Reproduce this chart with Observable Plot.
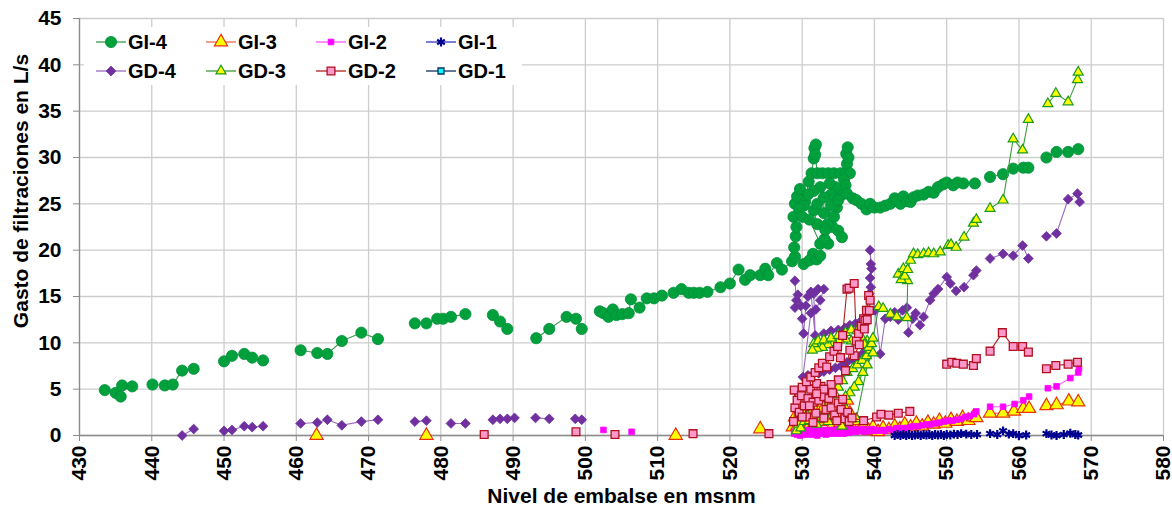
<!DOCTYPE html>
<html><head><meta charset="utf-8">
<script src="https://cdn.jsdelivr.net/npm/d3@7"></script>
<script src="https://cdn.jsdelivr.net/npm/@observablehq/plot@0.6"></script>
<style>
body{margin:0;background:#fff;}
#chart{width:1172px;height:510px;}
</style>
</head><body><div id="chart"></div>
<script>
// ---------- tick labels ----------
const xTicks = [430,440,450,460,470,480,490,500,510,520,530,540,550,560,570,580];
const yTicks = [0,5,10,15,20,25,30,35,40,45];
const xTitle = "Nivel de embalse en msnm";
const yTitle = "Gasto de filtraciones en L/s";
const seriesNames = ["GI-4","GI-3","GI-2","GI-1","GD-4","GD-3","GD-2","GD-1"];

// ---------- series values [nivel, gasto]; null = break in line ----------
const GI4 = [
[433.5,4.9],[435.0,4.6],[435.7,4.2],[435.9,5.4],[437.3,5.3], null,
[440.1,5.5],[441.8,5.4],[442.9,5.5],[444.2,7.0],[445.8,7.2], null,
[450.0,8.0],[451.1,8.6],[452.8,8.8],[453.9,8.4],[455.4,8.1], null,
[460.6,9.2],[462.9,8.9],[464.3,8.8],[466.3,10.2],[469.0,11.1],[471.3,10.4], null,
[476.4,12.1],[478.0,12.1],[479.5,12.6],[480.3,12.6],[481.4,12.8],[483.4,13.1], null,
[487.2,13.0],[488.2,12.3],[489.2,11.5], null,
[493.2,10.5],[495.0,11.5],[497.4,12.8],[498.7,12.6],[499.5,11.5], null,
[502.0,13.4],[502.5,13.2],[503.2,12.8],[503.8,13.6],[504.3,13.0],[505.1,13.1],[506.0,13.2],[506.3,14.7],[507.5,13.8],[508.5,14.8],[509.5,14.8],[510.6,15.1], null,
[512.2,15.4],[513.3,15.8],[514.3,15.4],[515.0,15.4],[515.8,15.4],[516.9,15.5],
[518.7,16.0],[520.0,16.4],[521.2,17.9],[522.1,16.8],[522.8,17.3],[524.2,17.3],[524.9,18.0],[525.3,17.3],[526.5,18.6],[527.2,17.9],[528.6,18.8],
[529.0,19.3],[528.9,20.3],[529.1,21.5],[529.2,22.5],[528.8,23.6],[529.0,25.0],[529.3,25.8],[529.7,26.6],[530.4,25.2],[530.9,27.4],[531.3,28.3],[531.6,29.9],[531.7,31.0],[531.9,31.4],[531.8,30.3],[532.1,28.3],[532.8,28.3],[533.6,28.3],[534.4,28.3],[535.3,28.3],[536.0,28.3],[536.2,29.3],[536.1,30.4],[536.3,31.1],[536.4,30.0],[536.6,28.3],[535.8,27.6],[536.0,27.0],[535.5,26.0],[534.6,26.8],[533.8,27.2],[534.0,26.0],[534.8,24.6],[534.4,23.6],[535.0,22.1],[535.5,21.4],[534.2,22.5],[533.5,22.8],[532.1,22.8],[531.6,24.3],[532.1,25.0],[533.0,24.0],[533.0,25.7],[532.5,26.8],[531.6,26.4],[530.8,26.0],[530.2,24.8],[529.6,24.5],[530.0,23.6],[531.0,23.3],[532.5,20.7],[533.6,20.7],[533.1,21.2],[531.5,19.6],[530.2,18.5],[531.0,18.9],[532.0,19.0],[532.5,19.4],[533.2,22.2],[534.0,24.8],[535.0,25.4],[536.2,26.1],[537.0,25.6],[537.5,25.4],[538.2,25.0],[538.9,24.4],[539.4,25.0],[540.0,24.6],[540.8,24.6],[541.5,24.8],[542.2,25.0],[542.8,25.6],[543.1,25.3],[543.6,25.0],[544.0,25.8],[544.5,25.3],[545.0,25.2],[545.4,25.7],[546.0,25.9],[546.8,26.0],[547.5,26.3],[548.2,26.2],[548.8,26.8],[549.5,27.1],[550.0,27.3],[550.9,27.0],[551.5,27.3],[552.3,27.2],[553.9,27.2], null,
[556.0,27.9],[557.8,28.2],[559.2,28.8],[560.6,28.9],[561.3,28.9], null,
[563.8,30.0],[565.2,30.6],[566.8,30.6],[568.2,30.9]
];
const GI3 = [
[462.8,0.0], null, [478.0,0.0], null, [512.5,0.0], null, [524.2,0.7], null,
[528.7,0.9],[529.0,2.0],[529.3,1.0],[529.6,3.0],[530.0,1.5],[530.4,2.5],[530.8,0.8],[531.2,2.2],[531.6,1.2],[532.0,2.8],[532.5,1.5],[533.0,3.0],[533.4,1.8],[533.8,2.6],[534.3,1.2],[534.8,2.8],[535.3,1.4],[535.7,3.2],[536.2,3.8],[536.4,1.0],[536.6,2.4],[537.0,0.8],[537.5,1.6],[538.0,0.6],[538.6,1.2],[539.2,0.5],[539.8,0.9],[540.5,0.4],[541.2,0.8],[542.0,0.6],[542.8,1.0],[543.5,0.7],[544.2,1.2],[545.0,0.9],[545.8,1.3],[546.6,1.0],[547.4,1.4],[548.2,1.2],[549.0,1.6],[549.8,1.3],[550.6,1.7],[551.4,1.5],[552.2,1.9],[553.0,1.6],[553.7,2.0],[554.1,1.9], null,
[556.0,2.4],[557.8,2.4],[559.3,2.6],[560.6,2.9],[561.4,2.9], null,
[563.8,3.2],[565.2,3.3],[566.9,3.7],[568.2,3.6]
];
const GI2 = [
[502.5,0.6], null, [506.4,0.4], null,
[528.9,0.2],[529.1,0.5],[529.3,0.1],[529.5,0.4],[529.7,0.0],[529.9,0.6],[530.1,0.2],[530.3,0.4],[530.5,0.1],[530.7,0.6],[530.9,0.3],[531.1,0.5],[531.3,0.1],[531.5,0.6],[531.7,0.2],[531.9,0.4],[532.1,0.0],[532.3,0.5],[532.5,0.2],[532.7,0.6],[532.9,0.3],[533.1,0.5],[533.3,0.1],[533.5,0.6],[533.7,0.3],[533.9,0.5],[534.1,0.2],[534.3,0.6],[534.5,0.3],[534.7,0.5],[534.9,0.2],[535.1,0.7],[535.3,0.3],[535.5,0.5],[535.7,0.2],[535.9,0.6],[536.1,0.4],[536.3,0.7],[536.5,0.3],[536.7,0.6],[536.9,0.4],[537.2,0.7],[537.5,0.4],[537.8,0.6],[538.1,0.5],[538.4,0.7],[538.7,0.4],[539.0,0.6],[539.3,0.5],[539.6,0.7],[539.9,0.5],[540.2,0.6],[540.5,0.5],[541.0,0.6],[541.5,0.5],[542.0,0.7],[542.5,0.6],[543.0,0.8],[543.5,0.7],[544.0,0.8],[544.5,0.8],[545.0,0.9],[545.4,1.0],[546.0,1.0],[546.6,1.1],[547.2,1.2],[547.8,1.2],[548.4,1.3],[549.0,1.4],[549.6,1.5],[550.2,1.6],[550.8,1.6],[551.4,1.7],[552.0,1.8],[552.6,2.0],[553.2,2.1],[553.8,2.3],[554.1,2.6], null,
[556.0,3.1],[557.8,3.1],[559.4,3.4],[560.6,3.8],[561.4,4.2], null,
[564.0,5.1],[565.2,5.3],[567.1,6.2],[568.2,6.8],[568.3,7.2]
];
const GI1 = [
[542.8,0.0],[543.2,0.1],[543.6,0.0],[544.0,0.1],[544.4,0.0],[544.8,0.1],[545.2,0.0],[545.6,0.05],[546.0,0.1],[546.4,0.0],[546.8,0.1],[547.2,0.05],[547.6,0.1],[548.0,0.0],[548.4,0.1],[548.8,0.05],[549.2,0.1],[549.6,0.0],[550.0,0.1],[550.5,0.05],[551.0,0.15],[551.5,0.1],[552.0,0.2],[552.7,0.15],[553.4,0.1],[554.2,0.1], null,
[556.0,0.2],[557.0,0.1],[557.8,0.5],[558.6,0.15],[559.2,0.2],[560.0,0.0],[561.0,0.05], null,
[563.8,0.2],[564.5,0.05],[565.2,0.0],[566.2,0.1],[567.1,0.25],[567.8,0.1],[568.2,0.05]
];
const GD4 = [
[444.2,0.0],[445.8,0.7], null,
[450.0,0.5],[451.1,0.6],[452.8,1.0],[453.9,0.9],[455.4,1.0], null,
[460.6,1.3],[462.9,1.4],[464.3,1.7],[466.3,1.1],[469.0,1.5],[471.3,1.7], null,
[476.4,1.5],[478.0,1.6], null,
[481.4,1.3],[483.4,1.3], null,
[487.2,1.7],[488.2,1.8],[489.2,1.8],[490.2,1.9], null,
[493.1,1.9],[495.0,1.8], null,
[498.6,1.8],[499.5,1.7], null,
[529.0,16.7],[529.2,14.6],[529.0,13.8],[529.4,15.2],[529.8,14.0],[530.0,12.6],[530.2,11.0],[530.5,14.0],[530.8,15.0],[531.2,15.5],[531.8,10.8],[531.6,15.3],[532.2,15.8],[533.0,15.8],[532.5,14.6],[531.9,13.6],[531.2,13.2],
[530.1,6.3],[530.8,6.5],[531.5,6.6],[532.3,6.7],[533.0,6.9],[533.8,7.1],[534.6,7.3],[535.4,7.5],[536.2,7.9],[537.0,8.2],[537.6,8.5],[538.3,8.8],[538.9,9.3],
[533.0,11.0],[534.0,11.3],[535.0,11.4],[535.9,11.6],[536.6,11.9],[537.4,12.1],[538.3,12.5],[538.9,13.0],[539.3,15.3],[539.4,17.0],[539.5,18.5],[539.4,20.0],[539.6,18.0],[539.5,16.0],[540.1,13.5],[540.8,8.8],[541.5,12.6],[542.2,12.8],[542.8,13.3],[543.3,12.5],[543.9,13.5],[544.5,13.8],[544.7,11.1],[545.3,12.6],[545.7,13.2],[546.3,11.9],[546.8,12.8],[547.7,14.6],[548.2,15.3],[548.8,15.8],[550.0,17.1],[550.5,16.4],[551.3,15.6],[552.4,16.0],[553.7,17.3],[554.1,17.8], null,
[556.0,19.1],[557.8,19.6],[559.2,19.4],[560.5,20.5],[561.3,19.1], null,
[563.8,21.5],[565.2,21.8],[566.8,25.5],[568.1,26.1],[568.4,25.2]
];
const GD3 = [
[529.2,0.5],[529.5,1.2],[529.8,0.8],[530.3,1.5],[530.7,2.2],[531.0,1.6],[531.5,2.0],[532.0,1.2],[532.6,1.8],[533.2,2.6],[533.6,3.4],[534.0,4.4],[534.6,4.4],[535.0,5.2],[535.6,5.9],[536.2,6.8],[537.0,7.2],[537.6,7.6],[538.3,8.1],[538.9,8.6],[539.4,9.2],[539.5,10.0],[539.0,10.2],[538.4,10.3],[537.6,10.1],[536.8,10.2],[536.0,10.4],[535.2,10.3],[534.4,10.0],[533.6,9.8],[532.8,9.5],[532.0,9.4],[531.6,9.9],[531.4,9.2],[532.2,10.2],[533.0,10.3],[534.0,10.5],[535.0,10.8],[536.0,11.1],[536.8,11.4],[537.6,11.3],[538.2,10.6],[538.6,9.8],[539.2,9.5],[539.6,9.9],[539.8,8.9],[539.0,7.6],[538.4,6.8],[537.8,5.8],[537.2,5.2],[536.6,4.6],[536.0,4.2],[535.4,3.6],[534.8,3.0],[534.2,2.2],[533.6,1.5],[535.5,1.0],[537.5,1.8],[539.8,10.5],[540.6,13.9],[541.2,13.7],[542.2,13.1],[543.1,12.8],[544.5,12.7],[544.6,16.7],[543.3,17.4],[543.7,16.8],[544.0,18.0],[544.2,17.2],[544.6,17.9],[545.0,18.9],[545.4,19.6],[546.0,19.5],[546.8,19.6],[547.5,19.7],[548.2,19.6],[549.1,19.8],[550.2,20.5],[550.6,20.6],[551.3,20.3],[552.4,21.4],[553.7,22.9],[554.1,23.3], null,
[556.0,24.5],[557.8,25.4],[559.2,32.0],[560.5,30.8],[561.3,34.1], null,
[564.0,35.8],[565.1,36.9],[566.8,36.0],[568.1,38.4],[568.2,39.2]
];
const GD2 = [
[486.0,0.1], null, [498.7,0.4], null, [504.1,0.1], null, [514.9,0.2], null, [525.4,0.2], null,
[528.8,1.5],[529.0,3.0],[528.9,4.9],[529.3,3.8],[529.6,2.5],[529.9,4.3],[530.3,3.2],[530.6,2.0],[530.8,4.0],[531.2,5.0],[531.5,3.6],[531.9,2.4],[532.3,3.8],[532.6,5.3],[533.0,4.2],[533.3,2.8],[533.7,4.0],[534.0,3.0],[534.5,2.2],[535.0,3.5],[535.4,2.8],[535.9,1.8],[536.3,2.5],[536.5,1.5],[535.6,3.9],[534.2,4.6],[532.0,5.6],[530.0,5.2],[530.6,5.8],[531.2,6.3],[531.8,6.8],[532.3,7.3],[532.8,7.8],[533.4,7.4],[533.8,8.5],[534.4,9.1],[534.9,9.6],[535.3,8.4],[535.6,10.8],[536.2,15.8],[536.5,15.9],[537.2,16.4],[537.5,10.2],[537.8,11.0],[538.2,11.8],[538.5,12.6],[538.7,12.4],[538.9,13.5],[539.2,15.1],[539.4,14.6],[539.3,13.5],[539.0,12.5],[538.6,11.5],[537.9,9.8],[537.2,8.6],[536.6,9.2],[536.0,7.0],[535.0,6.0],[534.0,5.5],[533.0,5.0],[532.0,4.5],[531.0,3.2],[530.0,2.0],[531.5,1.4],[533.0,1.9],[534.8,1.6],[536.9,1.9],[538.5,1.6],[540.3,2.0],[540.9,2.3],[542.0,2.2],[543.3,2.4],[544.9,2.6], null,
[550.0,7.7],[550.7,7.9],[551.4,7.8],[552.3,7.7],[553.7,7.55],[554.1,8.3], null,
[556.0,9.1],[557.7,11.1],[559.2,9.6],[560.5,9.6],[561.3,9.0], null,
[563.8,7.2],[565.1,7.55],[566.8,7.7],[568.1,7.9]
];
const GD1 = [];

const valuesByName = {"GI-4":GI4,"GI-3":GI3,"GI-2":GI2,"GI-1":GI1,"GD-4":GD4,"GD-3":GD3,"GD-2":GD2,"GD-1":GD1};

// ---------- styles ----------
const styles = {
  "GI-4": {symbol:"circle",   r:5.6, fill:"#00a03c", stroke:"#00903a", sw:0.8, line:"#3a9a50"},
  "GI-3": {symbol:"triangle", r:4.9, fill:"#ffff00", stroke:"#e8300a", sw:1.2, line:"#e86a50"},
  "GI-2": {symbol:"square",   r:3.2, fill:"#ff00ff", stroke:"#ff00ff", sw:0.8, line:"#ff55ff"},
  "GI-1": {symbol:"asterisk", r:4.2, fill:"none",    stroke:"#000090", sw:2.2, line:"#3535c0"},
  "GD-4": {symbol:"diamond2", r:4.4, fill:"#7030a0", stroke:"#7030a0", sw:0.8, line:"#9b6ac0"},
  "GD-3": {symbol:"triangle", r:3.7, fill:"#ffff00", stroke:"#1c9a1c", sw:1.2, line:"#3a9a3a"},
  "GD-2": {symbol:"square",   r:4.4, fill:"#ff99cc", stroke:"#b01020", sw:1.3, line:"#b02020"},
  "GD-1": {symbol:"square",   r:3.4, fill:"#00ffff", stroke:"#103060", sw:1.3, line:"#103060"}
};

const toPts = a => a.map(d => d ? {x:d[0], y:d[1]} : {x:NaN, y:NaN});

const FONT = "'Liberation Sans', Arial, Helvetica, sans-serif";
const drawOrder = ["GI-4","GI-3","GI-2","GI-1","GD-4","GD-3","GD-2","GD-1"];
const seriesMarks = [];
for (const name of drawOrder) {
  const s = styles[name];
  const pts = toPts(valuesByName[name]);
  seriesMarks.push(Plot.line(pts, {x:"x", y:"y", stroke:s.line, strokeWidth:1.1}));
  seriesMarks.push(Plot.dot(pts.filter(p => isFinite(p.x)), {x:"x", y:"y", symbol:s.symbol, r:s.r,
    fill:s.fill, stroke:s.stroke, strokeWidth:s.sw}));
}

const chart = Plot.plot({
  width:1172, height:510,
  marginLeft:79, marginRight:9, marginTop:18, marginBottom:75,
  style:{fontFamily:FONT, background:"#fff", overflow:"visible"},
  x:{domain:[430,580]},
  y:{domain:[0,45]},
  marks:[
    Plot.gridX(xTicks, {stroke:"#cdcdcd", strokeOpacity:1, strokeWidth:1.3}),
    Plot.gridY(yTicks, {stroke:"#cdcdcd", strokeOpacity:1, strokeWidth:1.3}),
    Plot.ruleX([430], {stroke:"#8c8c8c", strokeWidth:1.3}),
    Plot.ruleY([0], {stroke:"#8c8c8c", strokeWidth:1.3}),
    Plot.axisY(yTicks, {tickSize:6, tickPadding:12, stroke:"#8c8c8c", fill:"#000", label:null,
      fontSize:21, fontWeight:"bold"}),
    Plot.axisX(xTicks, {tickSize:6, tickPadding:4, tickRotate:-90, stroke:"#8c8c8c", fill:"#000", label:null,
      fontSize:21, fontWeight:"bold"}),
    ...seriesMarks,
    Plot.text([xTitle], {frameAnchor:"bottom", text:d=>d, dy:67, fontSize:21, fontWeight:"bold", fill:"#000", textAnchor:"middle"}),
    Plot.text([yTitle], {frameAnchor:"left", text:d=>d, dx:-58, dy:-36, rotate:-90, fontSize:21, fontWeight:"bold", fill:"#000", textAnchor:"middle"})
  ]
});
document.getElementById("chart").appendChild(chart);

// ---------- legend (inside plot, two rows of four) ----------
const svg = d3.select(chart);
const lg = svg.append("g").attr("font-family", FONT).attr("font-weight","bold").attr("font-size", 20)
  .attr("text-anchor","start");
lg.append("rect").attr("x",84).attr("y",27).attr("width",438).attr("height",58).attr("fill","#fff");
const symMap = {circle:d3.symbolCircle, triangle:d3.symbolTriangle, square:d3.symbolSquare,
  asterisk:d3.symbolAsterisk, diamond2:d3.symbolDiamond2};
seriesNames.forEach((name, i) => {
  const s = styles[name];
  const col = i % 4, row = Math.floor(i / 4);
  const cx = 111 + col * 110, cy = 42 + row * 29;
  const g = lg.append("g");
  g.append("line").attr("x1",cx-15).attr("x2",cx+15).attr("y1",cy).attr("y2",cy).attr("stroke",s.line).attr("stroke-width",1.3);
  g.append("path").attr("transform",`translate(${cx},${cy})`)
    .attr("d", d3.symbol(symMap[s.symbol], Math.PI*s.r*s.r)())
    .attr("fill", s.fill).attr("stroke", s.stroke).attr("stroke-width", s.sw);
  g.append("text").attr("x", cx+17).attr("y", cy).attr("dy","0.36em").attr("text-anchor","start").attr("fill","#000").text(name);
});
</script>
</body></html>
